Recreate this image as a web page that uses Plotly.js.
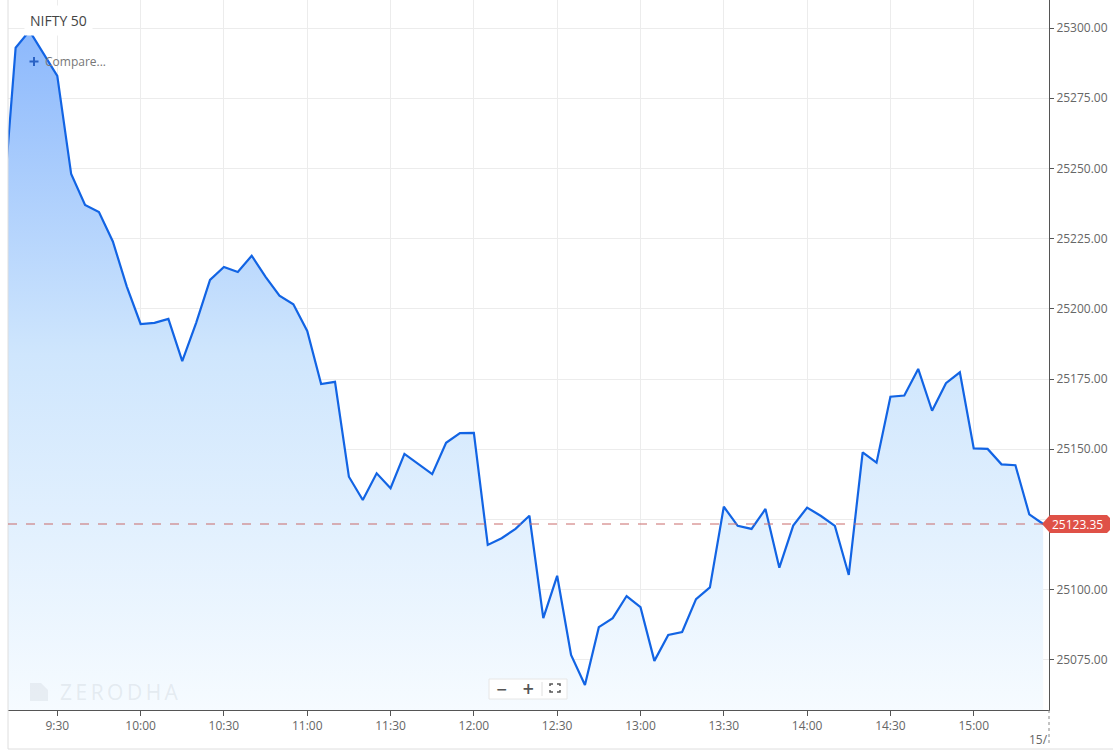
<!DOCTYPE html>
<html>
<head>
<meta charset="utf-8">
<script src="https://cdn.plot.ly/plotly-3.0.1.min.js"></script>
<style>
html,body{margin:0;padding:0;background:#fff;}
#chart{width:1114px;height:752px;}
</style>
</head>
<body>
<div id="chart"></div>
<script>
// ---- data ----
const tradeDate = "2025-07-14";
const times = ["09:10","09:15","09:20","09:25","09:30","09:35","09:40","09:45","09:50","09:55",
  "10:00","10:05","10:10","10:15","10:20","10:25","10:30","10:35","10:40","10:45","10:50","10:55",
  "11:00","11:05","11:10","11:15","11:20","11:25","11:30","11:35","11:40","11:45","11:50","11:55",
  "12:00","12:05","12:10","12:15","12:20","12:25","12:30","12:35","12:40","12:45","12:50","12:55",
  "13:00","13:05","13:10","13:15","13:20","13:25","13:30","13:35","13:40","13:45","13:50","13:55",
  "14:00","14:05","14:10","14:15","14:20","14:25","14:30","14:35","14:40","14:45","14:50","14:55",
  "15:00","15:05","15:10","15:15","15:20","15:25"];
const prices = [25230,25293,25299,25291,25283,25248,25237,25234.5,25224,25208,
  25194.6,25195,25196.4,25181.4,25195,25210.3,25214.9,25213.1,25218.9,25211.4,25204.7,25201.6,
  25192.1,25173.2,25174,25140.2,25131.9,25141.4,25136.1,25148.3,25144.7,25141.1,25152.3,25155.7,
  25155.8,25115.9,25118.3,25121.6,25126.3,25089.8,25104.9,25076.7,25066,25086.6,25089.8,25097.7,
  25093.7,25074.6,25083.8,25084.9,25096.6,25100.8,25129.5,25122.7,25121.6,25128.7,25107.8,25122.8,
  25129.2,25126.2,25122.7,25105.2,25148.9,25145.2,25168.7,25169.1,25178.6,25163.7,25173.5,25177.4,
  25150.3,25150.1,25144.6,25144.3,25126.8,25123.35];
const lastPrice = 25123.35;
const yTickVals = [25075, 25100, 25125, 25150, 25175, 25200, 25225, 25250, 25275, 25300];
const symbol = "NIFTY 50";
const compareLabel = "Compare...";
const watermark = "Z\u2009E\u2009R\u2009O\u2009D\u2009H\u2009A";
const dateLabel = "15/";
const xRange = ["09:12:15","15:27:06"];
const yRange = [25057.1, 25310];

// ---- geometry helpers (plot area: x 8..1049, y 0..710) ----
const PL = 8, PR = 1049, PT = 0, PB = 710;
const px = v => (v - PL) / (PR - PL);
const py = v => (PB - v) / (PB - PT);

const xs = times.map(t => tradeDate + " " + t);
// the 25125 label is hidden behind the last-price flag
const yTickText = yTickVals.map(v => Math.abs(v - lastPrice) < 10 ? "" : v.toFixed(2));

const trace = {
  x: xs, y: prices, type: "scatter", mode: "lines",
  line: {color: "#1264e4", width: 2.2},
  fill: "tozeroy",
  fillgradient: {type: "vertical", start: yRange[0], stop: yRange[1],
    colorscale: [[0, "#f6fbff"], [0.5, "#cfe6fd"], [1, "#86b4fc"]]},
  hoverinfo: "skip"
};

function poly(pts){ return "M" + pts.map(p => px(p[0]) + "," + py(p[1])).join("L") + "Z"; }
function lines(segs){ return segs.map(s => "M" + s.map(p => px(p[0]) + "," + py(p[1])).join("L")).join(" "); }

const shapes = [
  // container border
  {type:"line", xref:"paper", yref:"paper", x0:0, x1:0, y0:py(749), y1:1, line:{color:"#dedede", width:1}},
  {type:"line", xref:"paper", yref:"paper", x0:0, x1:px(1113), y0:py(749), y1:py(749), line:{color:"#dedede", width:1}},
  // last price dashed line
  {type:"line", xref:"paper", yref:"y", x0:0, x1:px(1042), y0:lastPrice, y1:lastPrice, line:{color:"#c96a6a", width:1, dash:"dash"}},
  // date dotted tick
  {type:"line", xref:"paper", yref:"paper", x0:1, x1:1, y0:0, y1:py(744), line:{color:"#888", width:1, dash:"dot"}},
  // price flag
  {type:"path", xref:"paper", yref:"paper", path: poly([[1042,524],[1050,515],[1107,515],[1110,518],[1110,530],[1107,533],[1050,533]]),
    fillcolor:"#df5147", line:{width:0}},
  // watermark logo
  {type:"path", xref:"paper", yref:"paper", path: poly([[30,683],[41,683],[48,690],[48,701],[30,701]]),
    fillcolor:"rgba(190,198,206,0.25)", line:{width:0}},
  // zoom control box
  {type:"rect", xref:"paper", yref:"paper", x0:px(489), x1:px(567), y0:py(699), y1:py(679),
    fillcolor:"#ffffff", line:{color:"#e6e6e6", width:1}},
  {type:"line", xref:"paper", yref:"paper", x0:px(542), x1:px(542), y0:py(696), y1:py(682), line:{color:"#e0e0e0", width:1}},
  {type:"path", xref:"paper", yref:"paper", line:{color:"#555", width:1.5},
    path: lines([[[550,686],[550,684],[553,684]],[[557,684],[560,684],[560,686]],[[560,690],[560,692],[557,692]],[[553,692],[550,692],[550,690]]])},
  // compare plus sign
  {type:"path", xref:"paper", yref:"paper", line:{color:"#2a62c4", width:2},
    path: lines([[[29.5,61.5],[38.5,61.5]],[[34,57],[34,66]]])}
];

const annotations = [
  {xref:"paper", yref:"paper", x:px(24), y:py(21), xanchor:"left", yanchor:"middle", showarrow:false,
    text:symbol, font:{family:"Open Sans", size:14, color:"#444"}, bgcolor:"#ffffff", borderpad:5},
  {xref:"paper", yref:"paper", x:px(43), y:py(61), xanchor:"left", yanchor:"middle", showarrow:false,
    text:compareLabel, font:{family:"Open Sans", size:12, color:"#777"}},
  {xref:"paper", yref:"paper", x:px(58), y:py(692), xanchor:"left", yanchor:"middle", showarrow:false,
    text:watermark, font:{family:"Open Sans", size:21, color:"rgba(190,198,206,0.3)"}},
  {xref:"paper", yref:"paper", x:px(502), y:py(689), xanchor:"center", yanchor:"middle", showarrow:false,
    text:"<b>−</b>", font:{family:"DejaVu Sans", size:14, color:"#555"}},
  {xref:"paper", yref:"paper", x:px(528), y:py(689), xanchor:"center", yanchor:"middle", showarrow:false,
    text:"<b>+</b>", font:{family:"DejaVu Sans", size:15, color:"#555"}},
  {xref:"paper", yref:"paper", x:px(1077), y:py(524), xanchor:"center", yanchor:"middle", showarrow:false,
    text:lastPrice.toFixed(2), font:{family:"Open Sans", size:12, color:"#ffffff"}},
  {xref:"paper", yref:"paper", x:px(1050), y:py(739), xanchor:"right", yanchor:"middle", showarrow:false,
    text:dateLabel, font:{family:"Open Sans", size:12, color:"#666"}}
];

const layout = {
  width: 1114, height: 752,
  margin: {l: PL, r: 1114 - PR, t: PT, b: 752 - PB, pad: 0},
  paper_bgcolor: "#ffffff", plot_bgcolor: "#ffffff",
  showlegend: false,
  font: {family: "Open Sans", size: 12, color: "#666"},
  xaxis: {
    type: "date",
    range: xRange.map(t => tradeDate + " " + t),
    tick0: tradeDate + " 09:30", dtick: 1800000,
    tickformat: "%-H:%M",
    showgrid: true, gridcolor: "#ececec", gridwidth: 1,
    showline: true, linecolor: "#555", linewidth: 1,
    ticks: "outside", ticklen: 5, tickcolor: "#555",
    tickfont: {family: "Open Sans", size: 12, color: "#666"},
    zeroline: false, fixedrange: true
  },
  yaxis: {
    side: "right",
    range: yRange,
    tickmode: "array", tickvals: yTickVals, ticktext: yTickText,
    showgrid: true, gridcolor: "#ececec", gridwidth: 1,
    showline: true, linecolor: "#555", linewidth: 1,
    ticks: "outside", ticklen: 4, tickcolor: "#555",
    tickfont: {family: "Open Sans", size: 12, color: "#666"},
    zeroline: false, fixedrange: true
  },
  shapes: shapes,
  annotations: annotations
};

Plotly.newPlot("chart", [trace], layout, {displayModeBar: false, staticPlot: true});
</script>
</body>
</html>
